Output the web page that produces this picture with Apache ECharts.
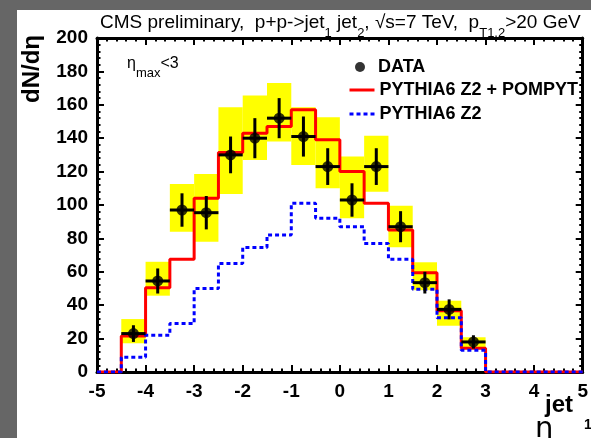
<!DOCTYPE html>
<html><head><meta charset="utf-8">
<script src="https://cdn.jsdelivr.net/npm/echarts@6/dist/echarts.min.js"></script>
<style>html,body{margin:0;padding:0;background:#fff}#c{width:591px;height:438px}</style>
</head><body><div id="c"></div>
<script>
// ---- data ----
const binLowEdges = [-4.5,-4,-3.5,-3,-2.5,-2,-1.5,-1,-0.5,0,0.5,1,1.5,2,2.5];
const binWidth = 0.5;
const pompyt = [21.5,50.5,67.5,104,131.5,143,147,157,139,120,101,85,59.5,36.7,14.2];
const z2 = [8.8,22,29,50,65,74.6,82,101,92,87,77,67.5,49.5,32.5,13];
const dataEta = [-4.25,-3.75,-3.25,-2.75,-2.25,-1.75,-1.25,-0.75,-0.25,0.25,0.75,1.25,1.75,2.25,2.75];
const dataVal = [23,54.5,97,95.4,130,140,152,141,123,103,123,87,53.5,37.5,18];
const statErr = [5,7.5,10,10,11,12,12,12,11,10,11,9.3,6.5,6,4];
const sysLow = [17.2,45.7,84,78,106.6,127,138,124,110,92,108,74.7,49,27.7,14.8];
const sysHigh = [31.7,66,112.6,118.6,158.5,165.5,173,158.5,152.5,129,141.5,99.6,65.7,42.7,20.8];
const xMin = -5, xMax = 5, xInterval = 1;
const yMin = 0, yMax = 200, yInterval = 20;

const FONT = 'Liberation Sans';
function stepData(vals){
  const d = [[xMin,0]];
  binLowEdges.forEach((x,i)=>d.push([x, vals[i]]));
  d.push([binLowEdges[binLowEdges.length-1]+binWidth, 0]);
  d.push([xMax, 0]);
  return d;
}
const axisCommon = {
  axisLine:{show:true,onZero:false,lineStyle:{color:'#000',width:3}},
  axisTick:{show:true,inside:true,length:7,lineStyle:{color:'#000',width:2}},
  minorTick:{show:true,splitNumber:5,length:3.5,lineStyle:{color:'#000',width:2}},
  splitLine:{show:false}
};
const labelStyle = {color:'#000',fontFamily:FONT,fontWeight:'bold',fontSize:19};
const legendText = {color:'#000',fontFamily:FONT,fontWeight:'bold',fontSize:18};
const hiddenSymbol = {color:'rgba(0,0,0,0)',borderColor:'rgba(0,0,0,0)',borderWidth:0,opacity:0};

const chart = echarts.init(document.getElementById('c'), null, {renderer:'canvas'});
chart.setOption({
  animation:false,
  backgroundColor:'#fff',
  grid:{left:97,right:4,top:38,bottom:66},
  xAxis:[
    Object.assign({type:'value',min:xMin,max:xMax,interval:xInterval,position:'bottom',
      axisLabel:Object.assign({margin:10,showMinLabel:true,showMaxLabel:true},labelStyle)},axisCommon),
    Object.assign({type:'value',min:xMin,max:xMax,interval:xInterval,position:'top',
      axisLabel:{show:false}},axisCommon)
  ],
  yAxis:[
    Object.assign({type:'value',min:yMin,max:yMax,interval:yInterval,position:'left',
      axisLabel:Object.assign({margin:9},labelStyle)},axisCommon),
    Object.assign({type:'value',min:yMin,max:yMax,interval:yInterval,position:'right',
      axisLabel:{show:false}},axisCommon)
  ],
  legend:[
    {data:[{name:'DATA',icon:'circle'}],left:350,top:53,orient:'vertical',itemWidth:10,itemHeight:10,
     selectedMode:false,textStyle:Object.assign({padding:[0,0,0,8]},legendText)},
    {data:['PYTHIA6 Z2 + POMPYT'],left:343,top:76,itemWidth:25,itemHeight:14,selectedMode:false,
     lineStyle:{width:3},itemStyle:hiddenSymbol,textStyle:legendText},
    {data:['PYTHIA6 Z2'],left:343,top:100,itemWidth:25,itemHeight:14,selectedMode:false,
     lineStyle:{width:3},itemStyle:hiddenSymbol,textStyle:legendText}
  ],
  graphic:[
    {type:'rect',left:0,top:0,z:-10,shape:{width:17,height:438},style:{fill:'#666666'}},
    {type:'rect',left:0,top:0,z:-10,shape:{width:591,height:10},style:{fill:'#666666'}},
    {type:'text',x:100,y:13,style:{
      text:'{a|CMS preliminary,  p+p->jet}{s|1}{a| jet}{s|2}{a|, √s=7 TeV,  p}{s|T1,2}{a|>20 GeV}',
      verticalAlign:'top',
      rich:{a:{fontFamily:FONT,fontSize:19,lineHeight:19,verticalAlign:'top',fill:'#000'},
            s:{fontFamily:FONT,fontSize:13,lineHeight:13,verticalAlign:'top',padding:[14,0,0,0],fill:'#000'}}}},
    {type:'text',x:127,y:56,style:{
      text:'{a|η}{s|max}{a|<3}',verticalAlign:'top',
      rich:{a:{fontFamily:FONT,fontSize:16,lineHeight:16,verticalAlign:'top',fill:'#000'},
            s:{fontFamily:FONT,fontSize:13,lineHeight:13,verticalAlign:'top',padding:[11,0,0,0],fill:'#000'}}}},
    {type:'text',x:32,y:103,rotation:Math.PI/2,style:{text:'dN/dη',fontFamily:FONT,fontWeight:'bold',fontSize:24,
      align:'left',verticalAlign:'middle',fill:'#000'}},
    {type:'text',x:535,y:444,style:{text:'η',fontFamily:'DejaVu Sans',fontSize:29,verticalAlign:'bottom',fill:'#000'}},
    {type:'text',x:545,y:393,style:{text:'jet',fontFamily:FONT,fontWeight:'bold',fontSize:24,verticalAlign:'top',fill:'#000'}},
    {type:'text',x:584,y:418,style:{text:'1',fontFamily:FONT,fontWeight:'bold',fontSize:14,verticalAlign:'top',fill:'#000'}}
  ],
  series:[
    {name:'sys',type:'custom',z:1,silent:true,
     data:dataEta.map((x,i)=>[x,sysLow[i],sysHigh[i]]),
     renderItem:function(params,api){
       const x=api.value(0), lo=api.value(1), hi=api.value(2);
       const p1=api.coord([x-binWidth/2,hi]), p2=api.coord([x+binWidth/2,lo]);
       return {type:'rect',shape:{x:p1[0],y:p1[1],width:p2[0]-p1[0],height:p2[1]-p1[1]},style:{fill:'#ffff00'}};
     }},
    {name:'PYTHIA6 Z2 + POMPYT',type:'line',step:'end',z:2,symbol:'none',showSymbol:false,
     data:stepData(pompyt),lineStyle:{color:'#ff0000',width:3},itemStyle:{color:'#ff0000'}},
    {name:'PYTHIA6 Z2',type:'line',step:'end',z:3,symbol:'none',showSymbol:false,
     data:stepData(z2),lineStyle:{color:'#0000ff',width:3,type:[4,3]},itemStyle:{color:'#0000ff'}},
    {name:'err',type:'custom',z:4,silent:true,
     data:dataEta.map((x,i)=>[x,dataVal[i],statErr[i]]),
     renderItem:function(params,api){
       const x=api.value(0), y=api.value(1), e=api.value(2);
       const h1=api.coord([x-binWidth/2,y]), h2=api.coord([x+binWidth/2,y]);
       const v1=api.coord([x,y+e]), v2=api.coord([x,y-e]);
       const st={stroke:'#000',lineWidth:3};
       return {type:'group',children:[
         {type:'line',shape:{x1:h1[0],y1:h1[1],x2:h2[0],y2:h2[1]},style:st},
         {type:'line',shape:{x1:v1[0],y1:v1[1],x2:v2[0],y2:v2[1]},style:st}]};
     }},
    {name:'DATA',type:'scatter',z:5,symbol:'circle',symbolSize:11,
     data:dataEta.map((x,i)=>[x,dataVal[i]]),itemStyle:{color:'#000'}}
  ]
});
</script></body></html>
